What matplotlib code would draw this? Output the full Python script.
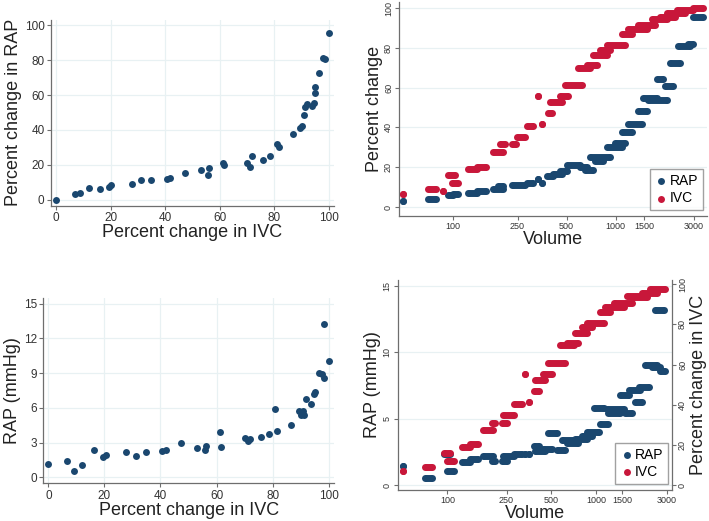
import numpy as np
import matplotlib.pyplot as plt
from matplotlib.ticker import NullLocator

plt.rcParams['font.family'] = ['Liberation Sans', 'DejaVu Sans']

# --- data ---

# upper left: percent change in IVC vs percent change in RAP
ivc_a = [0, 6.8, 8.8, 12.0, 16.1, 19.2, 20.1, 27.8, 31.1, 34.9, 40.8, 41.8, 47.3,
         53.0, 55.7, 56.0, 61.2, 61.7, 69.9, 71.2, 71.7, 75.9, 78.5, 81.0, 81.6,
         86.7, 89.4, 90.0, 90.8, 91.4, 92.1, 93.8, 94.6, 95.0, 95.1, 96.5, 97.7,
         98.5, 100]
rap_pct_a = [0, 3.1, 3.8, 6.5, 6.3, 7.3, 8.2, 9.2, 11.1, 11.1, 11.9, 12.2, 15.5,
             16.8, 14.1, 18.4, 21.2, 20.1, 20.8, 18.7, 25.0, 22.9, 25.2, 31.9, 30.4,
             37.7, 41.3, 42.1, 48.4, 53.3, 54.9, 53.9, 55.3, 61.0, 64.4, 72.5, 81.1,
             80.9, 95.4]

# lower left: percent change in IVC vs RAP (mmHg)
ivc_b = [0, 6.8, 9.0, 12.0, 16.2, 19.5, 20.4, 27.8, 31.2, 34.9, 40.7, 41.8, 47.3,
         53.0, 55.7, 56.1, 61.2, 61.6, 70.1, 71.3, 71.8, 75.9, 78.6, 81.0, 81.6,
         86.7, 89.5, 90.1, 90.9, 91.3, 91.8, 93.8, 94.8, 95.1, 96.4, 97.6, 98.2,
         98.3, 100]
rap_mmhg_b = [1.18, 1.44, 0.52, 1.07, 2.33, 1.73, 1.93, 2.19, 1.84, 2.16, 2.27, 2.33,
              2.94, 2.53, 2.36, 2.74, 3.92, 2.62, 3.43, 3.17, 3.34, 3.51, 3.71, 5.87,
              4.00, 4.55, 5.70, 5.38, 5.76, 5.41, 6.74, 6.31, 7.20, 7.40, 9.01, 8.90,
              8.55, 13.2, 10.05]

# upper right: each measurement covers a volume range (start, end, value)
ivc_start_c = [49.8, 70.2, 87.7, 94.1, 98.6, 124.8, 140.4, 177.7, 195.1, 230.1, 247.0,
               284.4, 335.5, 351.6, 386.3, 395.5, 455.5, 489, 590.2, 664, 729.4, 801.6,
               880.7, 1088, 1196, 1377, 1663, 1871, 2057, 2367, 2996]
ivc_end_c = [49.8, 78.7, 87.7, 103.3, 108.3, 140.4, 159.4, 204.6, 209.5, 243.5, 277.8,
             312.6, 335.5, 351.6, 404.9, 466.4, 512.4, 618.6, 695.9, 764.6, 880.7, 922.9,
             1141, 1253, 1549, 1743, 2055, 2312, 2664, 2996, 3450]
ivc_pct_c = [6.7, 8.9, 7.9, 16.1, 11.9, 19.3, 20.3, 27.8, 31.5, 31.5, 35.0,
             40.7, 55.6, 41.5, 47.2, 52.9, 55.8, 61.3, 70.0, 71.5, 76.2, 78.8,
             81.5, 86.8, 89.5, 91.5, 94.6, 95.6, 97.3, 98.8, 100]

rap_start_c = [49.8, 71.0, 94.1, 100.9, 124.8, 140.4, 177.7, 190.9, 230.1, 284.4, 335.5,
               351.6, 377.3, 414.6, 455.5, 500.6, 604.2, 648.5, 695.9, 746.8, 880.7, 990.6,
               1088, 1196, 1377, 1478, 1586, 1786, 2007, 2154, 2424, 2793, 2996]
rap_end_c = [49.8, 78.7, 100.9, 108.3, 140.4, 159.4, 204.6, 204.6, 277.8, 312.6, 335.5,
             351.6, 414.6, 466.4, 500.6, 604.2, 664, 729.4, 922.9, 840.2, 1088, 1141,
             1253, 1444, 1549, 1786, 2055, 1961, 2259, 2481, 2858, 2996, 3450]
rap_pct_c = [3.0, 3.8, 6.3, 6.5, 7.3, 8.2, 9.2, 10.8, 11.0, 11.9, 14.3,
             12.2, 15.5, 16.8, 18.0, 21.1, 20.3, 18.6, 25.0, 23.1, 30.3, 32.0,
             37.5, 41.5, 48.3, 54.6, 54.0, 64.4, 61.0, 72.5, 80.8, 81.9, 95.6]

# lower right: RAP in mmHg (left axis) and IVC percent change (right axis)
ivc_start_d = [50.5, 70.7, 94.0, 99.0, 124.9, 142.2, 174.8, 199.0, 232.4, 238.5, 278.6,
               333.9, 351.7, 380.1, 390.0, 443.7, 479.5, 574.8, 637.5, 725.5, 804.6,
               869.8, 1070, 1156, 1316, 1618, 1749, 2042, 2325]
ivc_end_d = [50.5, 78.4, 104.2, 109.8, 142.2, 161.8, 204.2, 209.6, 251.2, 278.6, 317.0,
             333.9, 351.7, 410.8, 455.3, 505.0, 621.3, 707.0, 764.0, 869.8, 939.7,
             1127, 1249, 1537, 1749, 2042, 2207, 2578, 2934]
ivc_pct_d = [7.0, 8.9, 16.2, 11.9, 19.2, 20.4, 27.5, 31.1, 31.1, 34.9, 40.4,
             55.1, 41.2, 46.9, 52.3, 55.1, 60.9, 69.7, 70.9, 75.5, 78.5,
             80.8, 86.1, 88.7, 90.4, 94.0, 93.4, 95.7, 97.4]

rap_start_d = [50.5, 70.7, 94.0, 99.0, 124.9, 142.2, 174.8, 199.0, 232.4, 238.5, 278.6,
               333.9, 351.7, 380.1, 390.0, 443.7, 479.5, 545.9, 589.8, 637.5, 725.5,
               804.6, 869.8, 964.5, 1070, 1186, 1217, 1577, 1459, 1661, 1842, 1940,
               2150, 2386, 2715, 2512]
rap_end_d = [50.5, 78.4, 104.2, 109.8, 142.2, 161.8, 204.2, 209.6, 251.2, 278.6, 317.0,
             333.9, 351.7, 410.8, 455.3, 505.0, 545.9, 621.3, 707.0, 764.0, 869.8,
             939.7, 1050, 1127, 1217, 1537, 1459, 1749, 1661, 1990, 2042, 2265,
             2578, 2715, 2934, 2859]
rap_mmhg_d = [1.45, 0.55, 2.38, 1.08, 1.77, 1.98, 2.2, 1.86, 1.86, 2.2, 2.33,
              2.36, 2.33, 2.96, 2.58, 2.74, 3.95, 2.66, 3.4, 3.2, 3.5,
              3.75, 4.02, 5.84, 4.59, 5.72, 5.42, 5.42, 6.8, 7.17, 6.3, 7.42,
              9.05, 8.9, 8.6, 13.2]

vol_ticks = [100, 250, 500, 1000, 1500, 3000]

# --- style ---
BLUE = '#1a476f'
RED = '#c8173a'
GRID = '#e8f1f3'
AXC = '#6e6e6e'
TXT = '#222222'
DOT = 5.0          # marker diameter in points
S = DOT ** 2


def stata_axes(ax, tick_size, grid_x=True):
    for side in ['top', 'right']:
        ax.spines[side].set_visible(False)
    for side in ['left', 'bottom']:
        ax.spines[side].set_color(AXC)
        ax.spines[side].set_linewidth(0.9)
    ax.tick_params(colors=AXC, labelcolor='#333333', labelsize=tick_size,
                   length=3, width=0.8, pad=1.5)
    ax.grid(axis='y', color=GRID, linewidth=0.9, zorder=0)
    if grid_x:
        ax.grid(axis='x', color=GRID, linewidth=0.9, zorder=0)
    ax.set_axisbelow(True)


def steps(ax, start, end, vals, color, label=None):
    ax.hlines(vals, start, end, colors=color, linewidth=DOT, zorder=3)
    ax.scatter(start, vals, s=S, color=color, linewidths=0, zorder=3, label=label)
    ax.scatter(end, vals, s=S, color=color, linewidths=0, zorder=3)


def vol_axis(ax):
    ax.set_xscale('log')
    ax.set_xticks(vol_ticks)
    ax.set_xticklabels([str(v) for v in vol_ticks])
    ax.xaxis.set_minor_locator(NullLocator())
    for lab in ax.get_yticklabels():
        lab.set_rotation(90)
        lab.set_va('center')


fig = plt.figure(figsize=(7.09, 5.21), dpi=100)

# upper left
ax1 = fig.add_axes([0.0715, 0.6052, 0.400, 0.3564])
stata_axes(ax1, 8.5)
ax1.scatter(ivc_a, rap_pct_a, s=S, color=BLUE, linewidths=0, zorder=3)
ax1.set_xlim(-2, 102)
ax1.set_ylim(-3.4, 103)
ax1.set_xticks([0, 20, 40, 60, 80, 100])
ax1.set_yticks([0, 20, 40, 60, 80, 100])
ax1.set_xlabel('Percent change in IVC', fontsize=13, color=TXT, labelpad=0)
ax1.set_ylabel('Percent change in RAP', fontsize=13, color=TXT, labelpad=2)

# upper right
ax2 = fig.add_axes([0.5632, 0.5854, 0.4336, 0.4107])
stata_axes(ax2, 6.5, grid_x=False)
steps(ax2, rap_start_c, rap_end_c, rap_pct_c, BLUE, 'RAP')
steps(ax2, ivc_start_c, ivc_end_c, ivc_pct_c, RED, 'IVC')
ax2.set_ylim(-4.5, 103)
ax2.set_yticks([0, 20, 40, 60, 80, 100])
vol_axis(ax2)
ax2.set_xlim(47.1, 3615)
ax2.set_xlabel('Volume', fontsize=13, color=TXT, labelpad=0)
ax2.set_ylabel('Percent change', fontsize=13, color=TXT, labelpad=1)
ax2.legend(loc='lower right', bbox_to_anchor=(0.988, 0.028), borderaxespad=0,
           fontsize=10, frameon=True, fancybox=False, edgecolor='#8a8a8a',
           handletextpad=0.1, handlelength=1.0, borderpad=0.35, labelspacing=0.25,
           scatterpoints=1, markerscale=1.0)

# lower left
ax3 = fig.add_axes([0.0611, 0.0724, 0.410, 0.3551])
stata_axes(ax3, 8.5)
ax3.scatter(ivc_b, rap_mmhg_b, s=S, color=BLUE, linewidths=0, zorder=3)
ax3.set_xlim(-1.8, 101.9)
ax3.set_ylim(-0.52, 15.46)
ax3.set_xticks([0, 20, 40, 60, 80, 100])
ax3.set_yticks([0, 3, 6, 9, 12, 15])
ax3.set_xlabel('Percent change in IVC', fontsize=13, color=TXT, labelpad=0)
ax3.set_ylabel('RAP (mmHg)', fontsize=13, color=TXT, labelpad=2)

# lower right
ax4 = fig.add_axes([0.561, 0.0595, 0.3865, 0.403])
stata_axes(ax4, 6.5, grid_x=False)
steps(ax4, rap_start_d, rap_end_d, rap_mmhg_d, BLUE, 'RAP')
ax4.set_ylim(-0.35, 15.45)
ax4.set_yticks([0, 5, 10, 15])
vol_axis(ax4)
ax4.set_xlim(46.2, 3250)
ax4.set_xlabel('Volume', fontsize=13, color=TXT, labelpad=0)
ax4.set_ylabel('RAP (mmHg)', fontsize=13, color=TXT, labelpad=1)

ax4r = ax4.twinx()
ax4r.spines['top'].set_visible(False)
ax4r.spines['left'].set_visible(False)
ax4r.spines['bottom'].set_visible(False)
ax4r.spines['right'].set_color(AXC)
ax4r.spines['right'].set_linewidth(0.9)
ax4r.tick_params(colors=AXC, labelcolor='#333333', labelsize=6.5,
                 length=3, width=0.8, pad=1.5)
steps(ax4r, ivc_start_d, ivc_end_d, ivc_pct_d, RED, 'IVC')
ax4r.set_ylim(-2.3, 102)
ax4r.set_yticks([0, 20, 40, 60, 80, 100])
for lab in ax4r.get_yticklabels():
    lab.set_rotation(90)
    lab.set_va('center')
ax4r.set_ylabel('Percent change in IVC', fontsize=13, color=TXT, labelpad=2)
h1, l1 = ax4.get_legend_handles_labels()
h2, l2 = ax4r.get_legend_handles_labels()
ax4r.legend(h1 + h2, l1 + l2, loc='lower right', bbox_to_anchor=(0.9876, 0.0286),
            borderaxespad=0, fontsize=10, frameon=True, fancybox=False,
            edgecolor='#8a8a8a', handletextpad=0.1, handlelength=1.0,
            borderpad=0.35, labelspacing=0.25, scatterpoints=1)

fig.savefig('out.png', dpi=100)
